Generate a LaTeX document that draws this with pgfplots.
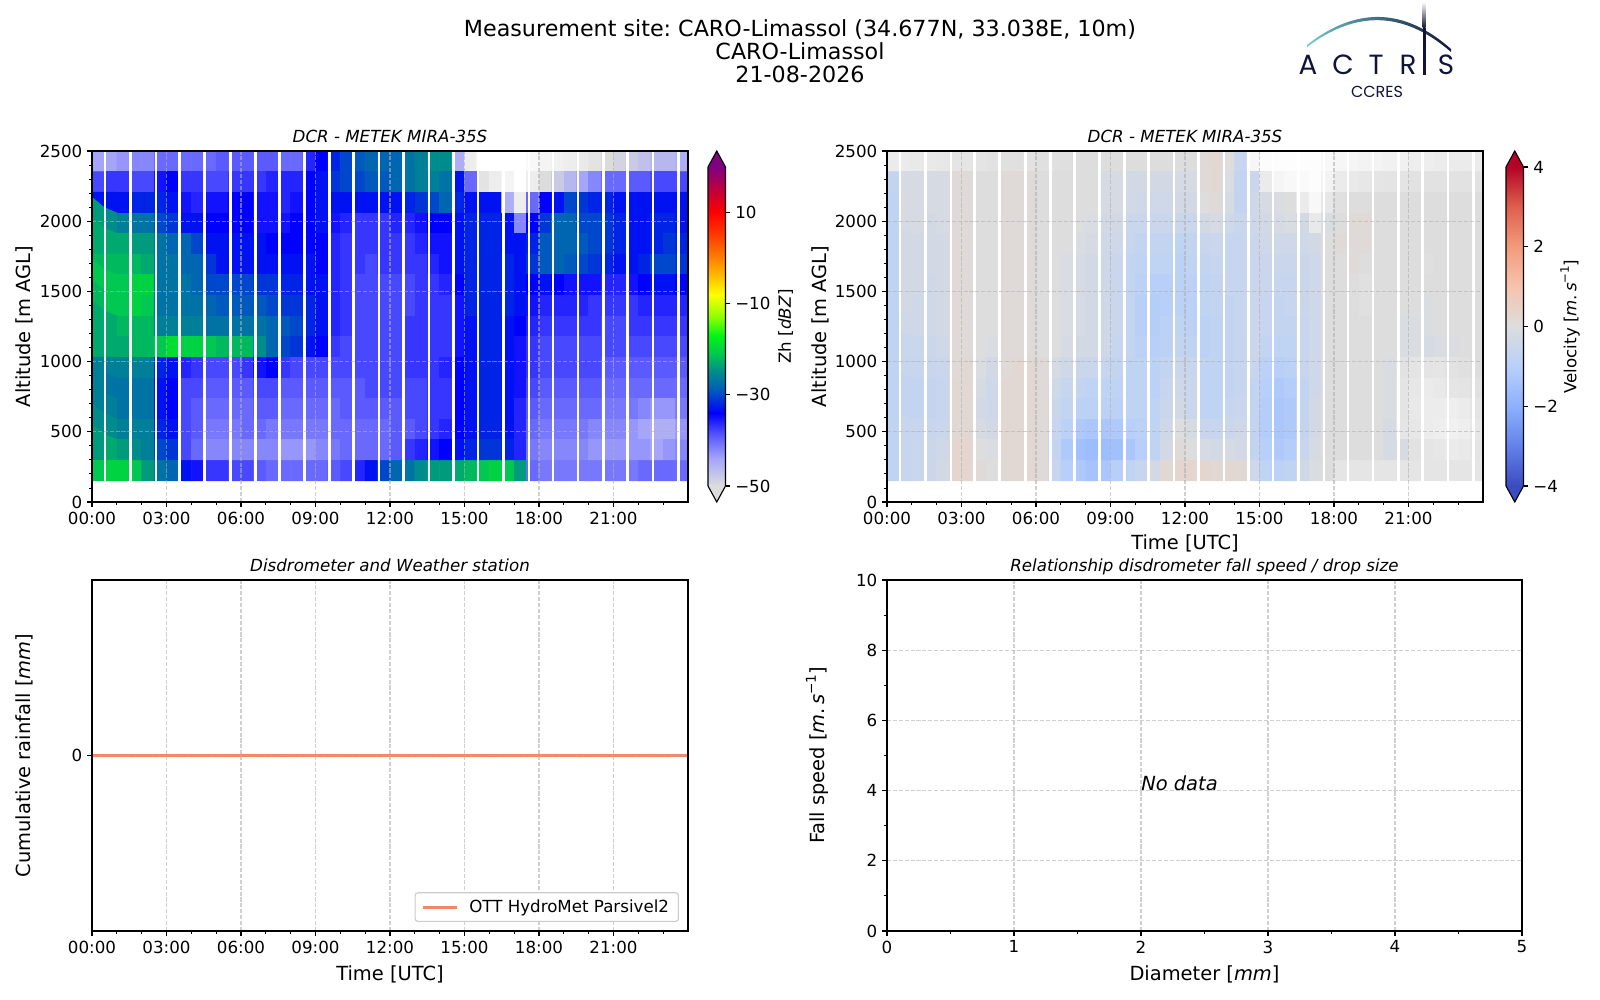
\documentclass[border=0pt]{standalone}
\usepackage{fontspec}
\setmainfont{DejaVu Sans}
\newfontfamily\logofont{Poppins}
\usepackage{pgfplots}
\pgfplotsset{compat=1.18}
\frenchspacing
\definecolor{gridc}{RGB}{176,176,176}
\definecolor{navy}{RGB}{16,20,56}
\definecolor{tealc}{RGB}{110,200,200}
\definecolor{tealm}{RGB}{30,120,140}
\definecolor{rainc}{RGB}{240,135,105}
\definecolor{legc}{RGB}{204,204,204}
\definecolor{zhtop}{RGB}{128,0,128}
\definecolor{zhbot}{RGB}{220,220,220}
\definecolor{vtop}{RGB}{180,4,38}
\definecolor{vbot}{RGB}{59,76,192}
\pgfplotsset{
  colormap={zhheat}{rgb255(0pt)=(255,255,255); rgb255(10pt)=(220,220,220); rgb255(16pt)=(165,165,250); rgb255(21pt)=(90,90,255); rgb255(26pt)=(0,0,255); rgb255(31pt)=(0,90,190); rgb255(35pt)=(0,140,140); rgb255(39pt)=(0,200,80); rgb255(43pt)=(0,245,20); rgb255(47pt)=(140,255,0); rgb255(52pt)=(255,255,0); rgb255(56pt)=(255,190,0); rgb255(60pt)=(255,128,0); rgb255(65pt)=(255,60,0); rgb255(70pt)=(255,0,0); rgb255(75pt)=(190,0,60); rgb255(80pt)=(128,0,128)},
  colormap={zhbar}{rgb255(0pt)=(220,220,220); rgb255(6pt)=(165,165,250); rgb255(11pt)=(90,90,255); rgb255(16pt)=(0,0,255); rgb255(21pt)=(0,90,190); rgb255(25pt)=(0,140,140); rgb255(29pt)=(0,200,80); rgb255(33pt)=(0,245,20); rgb255(37pt)=(140,255,0); rgb255(42pt)=(255,255,0); rgb255(46pt)=(255,190,0); rgb255(50pt)=(255,128,0); rgb255(55pt)=(255,60,0); rgb255(60pt)=(255,0,0); rgb255(65pt)=(190,0,60); rgb255(70pt)=(128,0,128)},
  colormap={velheat}{rgb255(0pt)=(255,255,255); rgb255(2pt)=(221,221,221); rgb255(2.02pt)=(59,76,192); rgb255(4pt)=(59,76,192); rgb255(5pt)=(98,130,234); rgb255(6pt)=(141,176,254); rgb255(7pt)=(184,208,249); rgb255(8pt)=(221,221,221); rgb255(9pt)=(245,196,173); rgb255(10pt)=(244,154,123); rgb255(11pt)=(222,96,77); rgb255(12pt)=(180,4,38)},
  colormap={velbar}{rgb255(0pt)=(59,76,192); rgb255(1pt)=(98,130,234); rgb255(2pt)=(141,176,254); rgb255(3pt)=(184,208,249); rgb255(4pt)=(221,221,221); rgb255(5pt)=(245,196,173); rgb255(6pt)=(244,154,123); rgb255(7pt)=(222,96,77); rgb255(8pt)=(180,4,38)},
  mpl/.style={scale only axis, anchor=south west, axis on top, tick align=outside, tick pos=left,
    major tick length=3.5pt, minor tick length=2pt,
    major tick style={line width=0.8pt, black}, minor tick style={line width=0.6pt, black},
    axis line style={line width=0.8pt, black},
    ticklabel style={font=\fontsize{12}{14.4}\selectfont},
    grid=major, major grid style={draw=gridc, draw opacity=0.6, dash pattern=on 2.96pt off 1.28pt, line width=0.8pt},
    /pgf/number format/assume math mode=true},
  timex/.style={xmin=0, xmax=24, xtick={0,3,6,9,12,15,18,21}, xticklabels={00:00,03:00,06:00,09:00,12:00,15:00,18:00,21:00}, minor xtick={1,2,4,5,7,8,10,11,13,14,16,17,19,20,22,23}},
  alty/.style={ymin=0, ymax=2500, ytick={0,500,1000,1500,2000,2500}, yticklabels={0,500,1000,1500,2000,2500}, minor ytick={100,200,300,400,600,700,800,900,1100,1200,1300,1400,1600,1700,1800,1900,2100,2200,2300,2400}},
  cbar/.style={scale only axis, anchor=south west, width=12.6pt, height=229.68pt, xmin=0, xmax=1, xtick=\empty, ytick pos=right, yticklabel pos=right, tick align=outside, major tick length=3.5pt, major tick style={line width=0.8pt, black}, axis line style={draw=none}, ticklabel style={font=\fontsize{12}{14.4}\selectfont}},
}
\begin{document}
\begin{tikzpicture}
\path[use as bounding box] (0,0) rectangle (1152pt,720pt);

% ---------------- top left: reflectivity
\begin{axis}[mpl, timex, alty, at={(66.24pt,358.56pt)}, width=429.12pt, height=252.72pt,
  colormap name=zhheat, point meta min=-60, point meta max=20]
\addplot[matrix plot*, mesh/cols=48, mesh/rows=16, point meta=explicit]
 table[row sep=\\, x expr={mod(\coordindex,48)*0.5+0.25}, y expr={2500-(floor(\coordindex/48)+0.5)*146.875}, meta=c] {
c\\
-44\\ -44\\ -43\\ -42\\ -42\\ -40\\ -40\\ -40\\ -40\\ -40\\ -39\\ -39\\ -39\\ -39\\ -39\\ -40\\ -40\\ -36\\ -34\\ -32\\ -30\\ -29\\ -28\\ -28\\
-28\\ -27\\ -26\\ -25\\ -25\\ -45\\ -55\\ -60\\ -60\\ -60\\ -60\\ -58\\ -57\\ -56\\ -55\\ -54\\ -52\\ -50\\ -49\\ -48\\ -47\\ -46\\ -46\\ -45\\
-38\\ -37\\ -37\\ -38\\ -38\\ -35\\ -34\\ -37\\ -37\\ -38\\ -38\\ -37\\ -37\\ -37\\ -36\\ -36\\ -36\\ -34\\ -33\\ -31\\ -30\\ -30\\ -29\\ -29\\
-28\\ -27\\ -26\\ -26\\ -27\\ -33\\ -40\\ -52\\ -55\\ -57\\ -60\\ -55\\ -50\\ -48\\ -46\\ -44\\ -42\\ -40\\ -40\\ -39\\ -39\\ -38\\ -38\\ -38\\
-33\\ -33\\ -33\\ -32\\ -32\\ -32\\ -33\\ -35\\ -36\\ -35\\ -35\\ -34\\ -34\\ -35\\ -35\\ -36\\ -35\\ -34\\ -33\\ -33\\ -33\\ -33\\ -33\\ -33\\
-33\\ -32\\ -31\\ -30\\ -28\\ -32\\ -33\\ -33\\ -33\\ -45\\ -55\\ -40\\ -34\\ -33\\ -30\\ -31\\ -32\\ -32\\ -33\\ -33\\ -33\\ -33\\ -33\\ -33\\
-24\\ -25\\ -26\\ -27\\ -27\\ -30\\ -31\\ -33\\ -33\\ -34\\ -34\\ -34\\ -34\\ -35\\ -35\\ -35\\ -34\\ -34\\ -33\\ -35\\ -36\\ -37\\ -37\\ -37\\
-36\\ -36\\ -35\\ -34\\ -34\\ -33\\ -32\\ -32\\ -32\\ -33\\ -42\\ -34\\ -31\\ -28\\ -28\\ -30\\ -30\\ -31\\ -32\\ -33\\ -33\\ -32\\ -32\\ -33\\
-23\\ -23\\ -23\\ -24\\ -24\\ -27\\ -28\\ -28\\ -30\\ -33\\ -33\\ -33\\ -33\\ -33\\ -34\\ -34\\ -34\\ -34\\ -34\\ -36\\ -37\\ -37\\ -37\\ -37\\
-37\\ -37\\ -36\\ -35\\ -35\\ -33\\ -32\\ -32\\ -32\\ -33\\ -33\\ -32\\ -29\\ -28\\ -28\\ -29\\ -30\\ -31\\ -32\\ -33\\ -33\\ -32\\ -31\\ -32\\
-22\\ -22\\ -22\\ -22\\ -23\\ -27\\ -27\\ -28\\ -28\\ -31\\ -33\\ -33\\ -33\\ -33\\ -33\\ -33\\ -33\\ -33\\ -34\\ -36\\ -37\\ -37\\ -38\\ -37\\
-37\\ -37\\ -37\\ -36\\ -35\\ -33\\ -32\\ -32\\ -32\\ -32\\ -33\\ -31\\ -29\\ -28\\ -29\\ -30\\ -31\\ -32\\ -33\\ -33\\ -32\\ -30\\ -30\\ -31\\
-21\\ -21\\ -21\\ -20\\ -20\\ -27\\ -27\\ -27\\ -28\\ -30\\ -30\\ -30\\ -30\\ -31\\ -31\\ -32\\ -32\\ -33\\ -33\\ -36\\ -37\\ -38\\ -38\\ -38\\
-38\\ -38\\ -37\\ -37\\ -36\\ -34\\ -32\\ -32\\ -32\\ -32\\ -33\\ -34\\ -33\\ -34\\ -35\\ -35\\ -35\\ -36\\ -36\\ -35\\ -34\\ -33\\ -33\\ -34\\
-22\\ -21\\ -21\\ -20\\ -21\\ -27\\ -27\\ -27\\ -27\\ -28\\ -29\\ -29\\ -29\\ -29\\ -30\\ -31\\ -31\\ -32\\ -33\\ -36\\ -37\\ -38\\ -38\\ -38\\
-38\\ -38\\ -37\\ -37\\ -37\\ -35\\ -32\\ -32\\ -32\\ -32\\ -33\\ -35\\ -36\\ -36\\ -36\\ -36\\ -37\\ -37\\ -37\\ -37\\ -36\\ -36\\ -36\\ -36\\
-23\\ -23\\ -22\\ -22\\ -22\\ -26\\ -26\\ -26\\ -26\\ -27\\ -27\\ -27\\ -27\\ -27\\ -28\\ -29\\ -30\\ -32\\ -33\\ -36\\ -37\\ -38\\ -38\\ -38\\
-38\\ -37\\ -37\\ -37\\ -37\\ -35\\ -33\\ -32\\ -32\\ -33\\ -34\\ -36\\ -37\\ -37\\ -37\\ -37\\ -37\\ -38\\ -38\\ -37\\ -37\\ -37\\ -37\\ -37\\
-23\\ -23\\ -23\\ -22\\ -22\\ -21\\ -19\\ -20\\ -20\\ -21\\ -22\\ -22\\ -22\\ -25\\ -28\\ -30\\ -31\\ -33\\ -34\\ -37\\ -38\\ -38\\ -38\\ -38\\
-38\\ -37\\ -37\\ -37\\ -37\\ -35\\ -33\\ -32\\ -32\\ -33\\ -35\\ -37\\ -38\\ -38\\ -38\\ -38\\ -38\\ -38\\ -38\\ -38\\ -38\\ -38\\ -38\\ -38\\
-26\\ -26\\ -26\\ -26\\ -26\\ -32\\ -33\\ -36\\ -37\\ -38\\ -38\\ -38\\ -37\\ -35\\ -34\\ -37\\ -38\\ -38\\ -38\\ -38\\ -38\\ -38\\ -38\\ -38\\
-38\\ -37\\ -37\\ -37\\ -36\\ -34\\ -33\\ -32\\ -32\\ -33\\ -35\\ -37\\ -38\\ -38\\ -38\\ -38\\ -38\\ -39\\ -39\\ -39\\ -39\\ -39\\ -39\\ -39\\
-26\\ -27\\ -27\\ -27\\ -27\\ -33\\ -34\\ -38\\ -38\\ -39\\ -39\\ -39\\ -39\\ -38\\ -38\\ -39\\ -39\\ -39\\ -39\\ -39\\ -39\\ -39\\ -38\\ -38\\
-38\\ -38\\ -38\\ -37\\ -37\\ -34\\ -33\\ -32\\ -32\\ -33\\ -35\\ -38\\ -39\\ -39\\ -39\\ -39\\ -39\\ -40\\ -40\\ -40\\ -40\\ -40\\ -40\\ -40\\
-26\\ -26\\ -27\\ -27\\ -27\\ -33\\ -34\\ -38\\ -39\\ -40\\ -40\\ -40\\ -40\\ -39\\ -39\\ -40\\ -40\\ -40\\ -40\\ -40\\ -39\\ -39\\ -39\\ -39\\
-39\\ -38\\ -38\\ -37\\ -37\\ -34\\ -33\\ -32\\ -32\\ -33\\ -36\\ -39\\ -40\\ -40\\ -40\\ -40\\ -40\\ -41\\ -41\\ -41\\ -42\\ -43\\ -43\\ -41\\
-25\\ -25\\ -26\\ -26\\ -26\\ -32\\ -33\\ -38\\ -39\\ -41\\ -41\\ -41\\ -40\\ -40\\ -41\\ -41\\ -41\\ -41\\ -41\\ -40\\ -40\\ -40\\ -40\\ -40\\
-39\\ -39\\ -38\\ -37\\ -36\\ -34\\ -33\\ -32\\ -32\\ -33\\ -36\\ -40\\ -41\\ -41\\ -41\\ -41\\ -42\\ -42\\ -42\\ -43\\ -44\\ -45\\ -45\\ -43\\
-24\\ -23\\ -24\\ -25\\ -26\\ -30\\ -31\\ -38\\ -40\\ -42\\ -42\\ -42\\ -42\\ -42\\ -42\\ -43\\ -43\\ -43\\ -42\\ -41\\ -40\\ -40\\ -40\\ -40\\
-39\\ -37\\ -36\\ -35\\ -34\\ -33\\ -32\\ -31\\ -31\\ -32\\ -36\\ -41\\ -42\\ -42\\ -42\\ -42\\ -43\\ -43\\ -43\\ -43\\ -43\\ -44\\ -43\\ -42\\
-21\\ -20\\ -20\\ -21\\ -24\\ -27\\ -28\\ -33\\ -35\\ -37\\ -37\\ -38\\ -38\\ -39\\ -40\\ -40\\ -40\\ -40\\ -40\\ -39\\ -38\\ -36\\ -33\\ -30\\
-28\\ -27\\ -25\\ -24\\ -24\\ -23\\ -22\\ -21\\ -20\\ -21\\ -24\\ -40\\ -41\\ -41\\ -41\\ -41\\ -41\\ -41\\ -41\\ -41\\ -40\\ -40\\ -40\\ -40\\
};
\addplot[ycomb, white, line width=1.8pt, mark=none] coordinates {(0.52,2500) (1.55,2500) (2.57,2500) (3.53,2500) (4.53,2500) (5.58,2500) (6.58,2500) (7.55,2500) (8.55,2500) (9.57,2500) (10.53,2500) (11.55,2500) (12.55,2500) (13.57,2500) (14.55,2500) (15.55,2500) (16.57,2500) (17.59,2500) (18.57,2500) (19.57,2500) (20.59,2500) (21.57,2500) (22.6,2500) (23.62,2500)};
\end{axis}

% colorbar Zh
\begin{axis}[cbar, at={(509.76pt,370.08pt)}, ymin=-50, ymax=20, ytick={-50,-30,-10,10}, yticklabels={−50,−30,−10,10}, colormap name=zhbar, point meta min=-50, point meta max=20]
\addplot[surf, shader=interp, mesh/rows=2, mesh/cols=2, point meta=y] coordinates {(0,-50) (1,-50) (0,20) (1,20)};
\end{axis}

% ---------------- top right: velocity
\begin{axis}[mpl, timex, alty, at={(638.64pt,358.56pt)}, width=429.12pt, height=252.72pt,
  colormap name=velheat, point meta min=-8, point meta max=4]
\addplot[matrix plot*, mesh/cols=48, mesh/rows=16, point meta=explicit]
 table[row sep=\\, x expr={mod(\coordindex,48)*0.5+0.25}, y expr={2500-(floor(\coordindex/48)+0.5)*146.875}, meta=c] {
c\\
-6.8\\ -6.8\\ -6.7\\ -6.7\\ -6.6\\ -6.5\\ -6.5\\ -6.4\\ -6.3\\ -6.2\\ -6.2\\ -6.3\\ -6.2\\ -6.2\\ -6.1\\ 0\\ 0\\ 0\\ 0\\ 0\\ 0\\ 0\\ 0\\ 0\\
0\\ 0.1\\ 0.2\\ 0\\ -0.6\\ -7.5\\ -7.8\\ -7.9\\ -7.9\\ -7.9\\ -7.9\\ -7.6\\ -7.5\\ -7.4\\ -7.3\\ -7.3\\ -7.2\\ -7.1\\ -7.0\\ -7.0\\ -6.9\\ -6.8\\ -6.8\\ -6.8\\
-0.7\\ -0.2\\ -0.2\\ -0.2\\ -0.2\\ 0.1\\ 0.1\\ 0\\ 0\\ 0.1\\ 0.1\\ 0.1\\ 0\\ 0\\ 0\\ 0\\ 0\\ -0.2\\ -0.2\\ -0.3\\ -0.3\\ -0.3\\ -0.3\\ -0.2\\
-0.2\\ 0.1\\ 0.2\\ -0.1\\ -0.7\\ -0.5\\ -6.8\\ -7.4\\ -7.6\\ -7.7\\ -7.9\\ -7.3\\ -6.8\\ -6.7\\ -6.6\\ -6.5\\ -6.4\\ -6.4\\ -6.3\\ -6.3\\ -6.3\\ -6.3\\ -6.3\\ -6.3\\
-0.8\\ -0.2\\ -0.2\\ -0.2\\ -0.2\\ 0.1\\ 0.1\\ 0\\ 0\\ 0.1\\ 0.1\\ 0.1\\ 0\\ 0\\ 0\\ 0\\ 0\\ -0.2\\ -0.2\\ -0.3\\ -0.4\\ -0.4\\ -0.4\\ -0.3\\
-0.3\\ 0\\ 0.1\\ -0.2\\ -0.7\\ -0.4\\ -0.2\\ -0.1\\ 0\\ -6.8\\ -7.6\\ -6.6\\ -6.2\\ 0\\ 0\\ 0\\ 0\\ 0\\ 0\\ 0\\ 0\\ 0\\ 0\\ 0\\
-0.8\\ -0.2\\ -0.2\\ -0.3\\ -0.2\\ 0.1\\ 0.1\\ 0\\ 0\\ 0.1\\ 0.1\\ 0.1\\ 0\\ 0\\ 0\\ 0\\ -0.1\\ -0.3\\ -0.3\\ -0.5\\ -0.5\\ -0.5\\ -0.5\\ -0.5\\
-0.5\\ -0.3\\ -0.2\\ -0.4\\ -0.5\\ -0.4\\ -0.3\\ -0.2\\ -0.1\\ -0.3\\ -6.7\\ -0.1\\ 0\\ 0.1\\ 0.1\\ 0\\ 0\\ 0\\ 0\\ 0\\ 0\\ 0\\ 0\\ 0\\
-0.8\\ -0.3\\ -0.3\\ -0.3\\ -0.3\\ 0.1\\ 0.1\\ 0\\ 0\\ 0.1\\ 0.1\\ 0.1\\ 0\\ 0\\ 0\\ -0.1\\ -0.2\\ -0.4\\ -0.4\\ -0.6\\ -0.7\\ -0.7\\ -0.7\\ -0.8\\
-0.7\\ -0.6\\ -0.5\\ -0.6\\ -0.6\\ -0.5\\ -0.4\\ -0.4\\ -0.4\\ -0.4\\ -0.3\\ 0\\ 0.1\\ 0.1\\ 0.1\\ 0\\ 0\\ 0\\ 0\\ 0\\ 0\\ 0\\ 0\\ 0\\
-0.8\\ -0.3\\ -0.3\\ -0.3\\ -0.3\\ 0.1\\ 0.1\\ 0\\ 0\\ 0.1\\ 0.1\\ 0.1\\ 0\\ 0\\ -0.1\\ -0.2\\ -0.3\\ -0.4\\ -0.5\\ -0.7\\ -0.8\\ -0.8\\ -0.8\\ -0.9\\
-0.8\\ -0.7\\ -0.6\\ -0.6\\ -0.6\\ -0.5\\ -0.5\\ -0.5\\ -0.5\\ -0.5\\ -0.4\\ 0\\ 0\\ 0.1\\ 0\\ 0\\ 0\\ 0\\ 0\\ -6.1\\ 0\\ 0\\ 0\\ 0\\
-0.8\\ -0.3\\ -0.3\\ -0.4\\ -0.3\\ 0.1\\ 0.1\\ 0\\ 0\\ 0.1\\ 0.1\\ 0.1\\ 0\\ 0\\ -0.1\\ -0.2\\ -0.3\\ -0.4\\ -0.5\\ -0.7\\ -0.9\\ -1.0\\ -1.0\\ -0.9\\
-0.9\\ -0.8\\ -0.7\\ -0.6\\ -0.6\\ -0.5\\ -0.5\\ -0.6\\ -0.6\\ -0.5\\ -0.4\\ 0\\ 0\\ 0\\ -6.2\\ 0\\ 0\\ 0\\ 0\\ 0\\ 0\\ 0\\ 0\\ 0\\
-0.8\\ -0.3\\ -0.4\\ -0.4\\ -0.3\\ 0.1\\ 0.1\\ 0\\ 0\\ 0.1\\ 0.1\\ 0.1\\ 0\\ 0\\ -0.1\\ -0.2\\ -0.3\\ -0.4\\ -0.5\\ -0.7\\ -1.0\\ -1.1\\ -1.0\\ -0.9\\
-0.9\\ -0.8\\ -0.7\\ -0.7\\ -0.6\\ -0.5\\ -0.6\\ -0.7\\ -0.6\\ -0.5\\ -0.4\\ 0\\ 0\\ 0\\ -6.2\\ 0\\ 0\\ 0\\ 0\\ -0.1\\ 0\\ 0\\ 0\\ 0\\
-0.8\\ -0.4\\ -0.4\\ -0.4\\ -0.3\\ 0.1\\ 0.1\\ 0\\ 0\\ 0.1\\ 0.1\\ 0.1\\ 0\\ 0\\ -0.1\\ -0.2\\ -0.3\\ -0.4\\ -0.5\\ -0.7\\ -1.0\\ -1.1\\ -0.9\\ -0.8\\
-0.9\\ -0.9\\ -0.8\\ -0.7\\ -0.6\\ -0.5\\ -0.6\\ -0.7\\ -0.7\\ -0.6\\ -0.4\\ 0\\ 0\\ 0\\ 0\\ 0\\ 0\\ -0.1\\ -0.1\\ -0.1\\ 0\\ 0\\ 0\\ 0\\
-0.8\\ -0.5\\ -0.5\\ -0.5\\ -0.4\\ 0.1\\ 0.1\\ 0\\ -0.1\\ 0.1\\ 0.1\\ 0.1\\ 0\\ 0\\ -0.2\\ -0.3\\ -0.3\\ -0.4\\ -0.6\\ -0.7\\ -0.9\\ -1.0\\ -0.9\\ -0.7\\
-0.8\\ -0.9\\ -0.8\\ -0.7\\ -0.6\\ -0.5\\ -0.7\\ -0.8\\ -0.8\\ -0.6\\ -0.4\\ 0\\ 0\\ 0\\ 0\\ 0\\ 0\\ -0.1\\ -0.1\\ -0.2\\ -0.1\\ -0.1\\ 0\\ 0\\
-0.8\\ -0.6\\ -0.6\\ -0.6\\ -0.5\\ 0.1\\ 0.2\\ -0.1\\ -0.3\\ 0.1\\ 0.2\\ 0.2\\ 0.1\\ -0.2\\ -0.4\\ -0.5\\ -0.5\\ -0.6\\ -0.7\\ -0.8\\ -0.8\\ -0.9\\ -0.7\\ -0.5\\
-0.6\\ -0.8\\ -0.8\\ -0.7\\ -0.6\\ -0.6\\ -0.9\\ -1.0\\ -0.9\\ -0.6\\ -0.4\\ 0\\ 0\\ 0\\ 0\\ 0\\ -0.1\\ -6.3\\ -6.4\\ -6.4\\ -6.5\\ -6.3\\ -6.2\\ 0\\
-0.8\\ -0.7\\ -0.7\\ -0.7\\ -0.6\\ 0.2\\ 0.2\\ -0.2\\ -0.4\\ 0.2\\ 0.2\\ 0.2\\ 0.1\\ -0.4\\ -0.6\\ -0.7\\ -0.8\\ -0.8\\ -0.8\\ -0.8\\ -0.8\\ -0.9\\ -0.6\\ -0.4\\
-0.5\\ -0.8\\ -0.8\\ -0.7\\ -0.6\\ -0.7\\ -1.0\\ -1.2\\ -1.1\\ -0.7\\ -0.4\\ 0\\ 0\\ 0\\ 0\\ 0\\ -0.1\\ -6.4\\ -6.6\\ -6.8\\ -6.7\\ -6.5\\ -6.4\\ -6.2\\
-0.8\\ -0.7\\ -0.7\\ -0.7\\ -0.6\\ 0.2\\ 0.2\\ -0.3\\ -0.4\\ 0.2\\ 0.2\\ 0.2\\ 0.1\\ -0.5\\ -0.7\\ -0.9\\ -0.9\\ -0.9\\ -0.9\\ -0.8\\ -0.8\\ -0.8\\ -0.5\\ -0.3\\
-0.5\\ -0.8\\ -0.8\\ -0.6\\ -0.5\\ -0.7\\ -1.1\\ -1.3\\ -1.2\\ -0.7\\ -0.3\\ 0\\ 0\\ 0\\ 0\\ 0\\ -0.1\\ -6.4\\ -6.7\\ -6.9\\ -6.9\\ -7.0\\ -6.8\\ -6.4\\
-0.8\\ -0.6\\ -0.6\\ -0.6\\ -0.5\\ 0.2\\ 0.2\\ -0.2\\ -0.3\\ 0.2\\ 0.2\\ 0.2\\ 0.1\\ -0.6\\ -0.9\\ -1.2\\ -1.3\\ -1.3\\ -1.2\\ -1.0\\ -0.9\\ -0.8\\ -0.4\\ 0\\
-0.2\\ -0.6\\ -0.6\\ -0.5\\ -0.4\\ -0.7\\ -1.1\\ -1.3\\ -1.2\\ -0.7\\ -0.3\\ 0\\ 0\\ 0\\ 0\\ 0\\ -0.2\\ -6.5\\ -6.6\\ -6.9\\ -7.0\\ -7.2\\ -7.0\\ -6.6\\
-0.8\\ -0.6\\ -0.5\\ -0.5\\ -0.4\\ 0.3\\ 0.3\\ 0\\ -0.1\\ 0.2\\ 0.2\\ 0.2\\ 0.1\\ -0.7\\ -1.2\\ -1.5\\ -1.6\\ -1.6\\ -1.5\\ -1.3\\ -1.0\\ -0.8\\ -0.3\\ 0.1\\
0\\ -0.2\\ -0.3\\ -0.2\\ -0.3\\ -0.7\\ -1.0\\ -1.2\\ -1.1\\ -0.6\\ -0.2\\ 0\\ 0\\ 0\\ 0\\ 0\\ -0.2\\ -0.2\\ -6.3\\ -6.5\\ -6.6\\ -6.8\\ -6.7\\ -6.4\\
-0.8\\ -0.6\\ -0.5\\ -0.5\\ -0.3\\ 0.3\\ 0.3\\ 0.1\\ 0\\ 0.2\\ 0.2\\ 0.2\\ 0.1\\ -0.6\\ -1.0\\ -1.2\\ -1.4\\ -1.3\\ -1.0\\ -0.8\\ -0.6\\ -0.3\\ 0.2\\ 0.3\\
0.3\\ 0.3\\ 0.2\\ 0.2\\ 0.2\\ -0.4\\ -0.8\\ -0.9\\ -0.8\\ -0.4\\ -0.1\\ 0\\ -6.5\\ -6.5\\ -6.5\\ -6.5\\ -6.5\\ -6.5\\ -6.5\\ -6.5\\ -6.5\\ -6.5\\ -6.5\\ -6.5\\
};
\addplot[ycomb, white, line width=1.8pt, mark=none] coordinates {(0.52,2500) (1.55,2500) (2.57,2500) (3.53,2500) (4.53,2500) (5.58,2500) (6.58,2500) (7.55,2500) (8.55,2500) (9.57,2500) (10.53,2500) (11.55,2500) (12.55,2500) (13.57,2500) (14.55,2500) (15.55,2500) (16.57,2500) (17.59,2500) (18.57,2500) (19.57,2500) (20.59,2500) (21.57,2500) (22.6,2500) (23.62,2500)};
\end{axis}

% colorbar velocity
\begin{axis}[cbar, at={(1084.32pt,370.08pt)}, ymin=-4, ymax=4, ytick={-4,-2,0,2,4}, yticklabels={−4,−2,0,2,4}, colormap name=velbar, point meta min=-4, point meta max=4]
\addplot[surf, shader=interp, mesh/rows=2, mesh/cols=2, point meta=y] coordinates {(0,-4) (1,-4) (0,4) (1,4)};
\end{axis}

% ---------------- bottom left: cumulative rainfall
\begin{axis}[mpl, timex, at={(66.24pt,49.68pt)}, width=429.12pt, height=252.72pt,
  ymin=-1, ymax=1, ytick={0}, yticklabels={0},
  legend cell align=left,
  legend style={at={(1,0)}, anchor=south east, xshift=-6.5pt, yshift=6.5pt, draw=legc, line width=0.8pt, rounded corners=2pt, inner xsep=4.8pt, inner ysep=3pt, font=\fontsize{12}{14.4}\selectfont},
  legend image code/.code={\draw[#1, line width=2.2pt] (0pt,0pt) -- (24pt,0pt); \path (30pt,0pt);}]
\addplot[rainc, line width=2.2pt, mark=none] coordinates {(0,0) (3,0) (6,0) (9,0) (12,0) (15,0) (18,0) (21,0) (24,0)};
\addlegendentry{OTT HydroMet Parsivel2}
\end{axis}

% ---------------- bottom right: fall speed / drop size
\begin{axis}[mpl, at={(638.64pt,49.68pt)}, width=457.2pt, height=252.72pt,
  xmin=0, xmax=5, ymin=0, ymax=10, xtick={0,1,2,3,4,5}, xticklabels={0,1,2,3,4,5}, minor xtick={0.5,1.5,2.5,3.5,4.5},
  ytick={0,2,4,6,8,10}, yticklabels={0,2,4,6,8,10}, minor ytick={1,3,5,7,9}]
\node[anchor=base west, inner sep=0pt, font=\fontsize{14}{16.8}\selectfont\itshape] at (axis cs:2,4) {No data};
\end{axis}

% ---------------- texts in pixel coordinates
\begin{scope}[x=0.72pt, y=-0.72pt, shift={(0pt,720pt)}]
\node[anchor=base, font=\fontsize{16}{19}\selectfont] at (800,37) {Measurement site: CARO-Limassol (34.677N, 33.038E, 10m)};
\node[anchor=base, font=\fontsize{16}{19}\selectfont] at (800,60) {CARO-Limassol};
\node[anchor=base, font=\fontsize{16}{19}\selectfont] at (800,83) {21-08-2026};

\node[anchor=base, font=\fontsize{12}{14}\selectfont\itshape] at (390,143) {DCR - METEK MIRA-35S};
\node[anchor=base, font=\fontsize{12}{14}\selectfont\itshape] at (1185,143) {DCR - METEK MIRA-35S};
\node[anchor=base, font=\fontsize{12}{14}\selectfont\itshape] at (390,572) {Disdrometer and Weather station};
\node[anchor=base, font=\fontsize{12}{14}\selectfont\itshape] at (1204.5,572) {Relationship disdrometer fall speed / drop size};

\node[rotate=90, anchor=south, inner sep=0pt, font=\fontsize{14}{16.8}\selectfont] at (33,326.5) {Altitude [m AGL]};
\node[rotate=90, anchor=south, inner sep=0pt, font=\fontsize{14}{16.8}\selectfont] at (829,326.5) {Altitude [m AGL]};
\node[rotate=90, anchor=south, inner sep=0pt, font=\fontsize{14}{16.8}\selectfont] at (33,755.5) {Cumulative rainfall [\textit{mm}]};
\node[rotate=90, anchor=south, inner sep=0pt, font=\fontsize{14}{16.8}\selectfont] at (829,755.5) {Fall speed [\textit{m}.\,\textit{s}\raisebox{0.45em}{\fontsize{9.8}{10}\selectfont −1}]};

\node[anchor=base, inner sep=0pt, font=\fontsize{14}{16.8}\selectfont] at (1185,550) {Time [UTC]};
\node[anchor=base, inner sep=0pt, font=\fontsize{14}{16.8}\selectfont] at (390,981) {Time [UTC]};
\node[anchor=base, inner sep=0pt, font=\fontsize{14}{16.8}\selectfont] at (1204.5,981) {Diameter [\textit{mm}]};

\node[rotate=90, anchor=north, inner sep=0pt, font=\fontsize{12}{14.4}\selectfont] at (778,326.5) {Zh [\textit{dBZ}]};
\node[rotate=90, anchor=north, inner sep=0pt, font=\fontsize{12}{14.4}\selectfont] at (1560,326.5) {Velocity [\textit{m}.\,\textit{s}\raisebox{0.45em}{\fontsize{8.4}{9}\selectfont −1}]};

% colorbar extensions and outlines
\fill[zhtop] (708,167) -- (725.5,167) -- (716.75,151) -- cycle;
\fill[zhbot] (708,486) -- (725.5,486) -- (716.75,502) -- cycle;
\draw[line width=0.8pt, line join=miter] (708,167) -- (716.75,151) -- (725.5,167) -- (725.5,486) -- (716.75,502) -- (708,486) -- cycle;
\fill[vtop] (1506,167) -- (1523.5,167) -- (1514.75,151) -- cycle;
\fill[vbot] (1506,486) -- (1523.5,486) -- (1514.75,502) -- cycle;
\draw[line width=0.8pt, line join=miter] (1506,167) -- (1514.75,151) -- (1523.5,167) -- (1523.5,486) -- (1514.75,502) -- (1506,486) -- cycle;

% logo
\shade[left color=tealc, middle color=tealm, right color=navy] (1307,45) .. controls (1356.3,6.3) and (1404.3,7.7) .. (1451,49) -- (1451,52) .. controls (1404.3,11.3) and (1356.3,9.7) .. (1307,47) -- cycle;
\shade[top color=white, bottom color=navy] (1422.5,2) rectangle (1425.5,28);
\fill[navy] (1422.5,28) rectangle (1425.5,75);
\foreach \xx/\ll in {1308/A,1343/C,1376/T,1408/R,1446/S}
  \node[anchor=base, inner sep=0pt, text=navy, font=\logofont\fontsize{20}{22}\selectfont] at (\xx,75) {\ll};
\node[anchor=base, inner sep=0pt, text=navy, font=\logofont\fontsize{11.5}{13}\selectfont] at (1377,98) {CCRES};
\end{scope}
\end{tikzpicture}
\end{document}
